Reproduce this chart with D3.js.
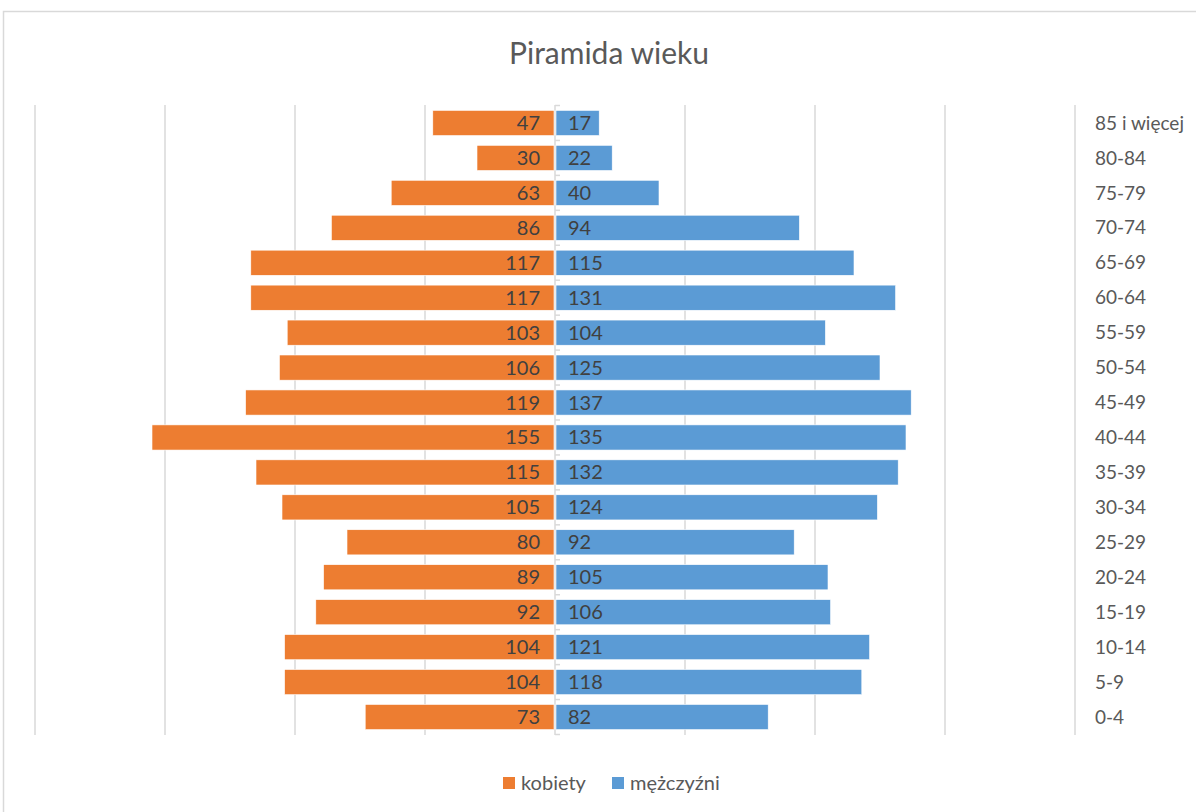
<!DOCTYPE html>
<html><head><meta charset="utf-8">
<script src="https://cdn.jsdelivr.net/npm/d3@7"></script>
<style>body{margin:0;background:#fff}svg{display:block}text{font-family:Lato,"Open Sans",sans-serif;fill:#595959}</style>
</head><body>
<script>
const categories = ["85 i więcej","80-84","75-79","70-74","65-69","60-64","55-59","50-54","45-49","40-44","35-39","30-34","25-29","20-24","15-19","10-14","5-9","0-4"];
const kobiety = [47,30,63,86,117,117,103,106,119,155,115,105,80,89,92,104,104,73];
const mezczyzni = [17,22,40,94,115,131,104,125,137,135,132,124,92,105,106,121,118,82];
const gridTicks = [-200,-150,-100,-50,0,50,100,150,200];
const seriesNames = ["kobiety","mężczyźni"];
const colors = ["#ED7D31","#5B9BD5"];

const W=1196,H=812;
const svg=d3.select("body").append("svg").attr("width",W).attr("height",H);
svg.append("rect").attr("x",3.5).attr("y",11.5).attr("width",1400).attr("height",1000).attr("fill","#fff").attr("stroke","#d9d9d9").attr("stroke-width",1.5);

const x=d3.scaleLinear().domain([-200,200]).range([35,1075]);
const y=d3.scaleBand().domain(categories).range([105.5,734.5]).paddingInner(0.28).paddingOuter(0.14);
const yb=d3.scaleBand().domain(categories).range([105.5,734.5]);

svg.append("text").attr("x",609).attr("y",64).attr("text-anchor","middle").attr("font-size",30).text("Piramida wieku");

svg.append("g").selectAll("line").data(gridTicks.filter(d=>d!==0)).join("line")
 .attr("x1",d=>x(d)).attr("x2",d=>x(d)).attr("y1",105).attr("y2",735)
 .attr("stroke","#d9d9d9").attr("stroke-width",1.5);

// center axis with ticks
const ax=svg.append("g").attr("transform",`translate(${x(0)},0)`);
ax.append("line").attr("x1",0).attr("x2",0).attr("y1",105).attr("y2",735).attr("stroke","#d9d9d9").attr("stroke-width",1.5);
const bounds=categories.map(c=>yb(c)).concat([yb.range()[1]]);
ax.selectAll("line.t").data(bounds).join("line").attr("class","t")
 .attr("x1",0).attr("x2",5).attr("y1",d=>d).attr("y2",d=>d).attr("stroke","#d9d9d9").attr("stroke-width",1.5);

const rows=categories.map((c,i)=>({c,k:kobiety[i],m:mezczyzni[i]}));
svg.append("g").selectAll("rect").data(rows).join("rect")
 .attr("x",d=>x(-d.k)).attr("width",d=>x(0)-x(-d.k)-1).attr("y",d=>y(d.c)).attr("height",y.bandwidth())
 .attr("fill",colors[0]).attr("stroke","#fff").attr("stroke-width",0.6);
svg.append("g").selectAll("rect").data(rows).join("rect")
 .attr("x",x(0)+1).attr("width",d=>x(d.m)-x(0)-1).attr("y",d=>y(d.c)).attr("height",y.bandwidth())
 .attr("fill",colors[1]).attr("stroke","#fff").attr("stroke-width",0.6);

svg.append("g").selectAll("text").data(rows).join("text")
 .attr("x",x(0)-15).attr("y",d=>y(d.c)+y.bandwidth()/2).attr("dy","0.35em").attr("text-anchor","end").attr("font-size",20)
 .style("fill","#404040").text(d=>d.k);
svg.append("g").selectAll("text").data(rows).join("text")
 .attr("x",x(0)+13).attr("y",d=>y(d.c)+y.bandwidth()/2).attr("dy","0.35em").attr("text-anchor","start").attr("font-size",20)
 .style("fill","#404040").text(d=>d.m);

svg.append("g").selectAll("text").data(categories).join("text")
 .attr("x",1095).attr("y",d=>yb(d)+yb.bandwidth()/2).attr("dy","0.35em").attr("font-size",19).text(d=>d);

const lg=svg.append("g");
const lx=[503,612];
seriesNames.forEach((n,i)=>{
  lg.append("rect").attr("x",lx[i]).attr("y",777).attr("width",12).attr("height",12).attr("fill",colors[i]);
  lg.append("text").attr("x",lx[i]+18).attr("y",783).attr("dy","0.35em").attr("font-size",20).text(n);
});
</script>
</body></html>
